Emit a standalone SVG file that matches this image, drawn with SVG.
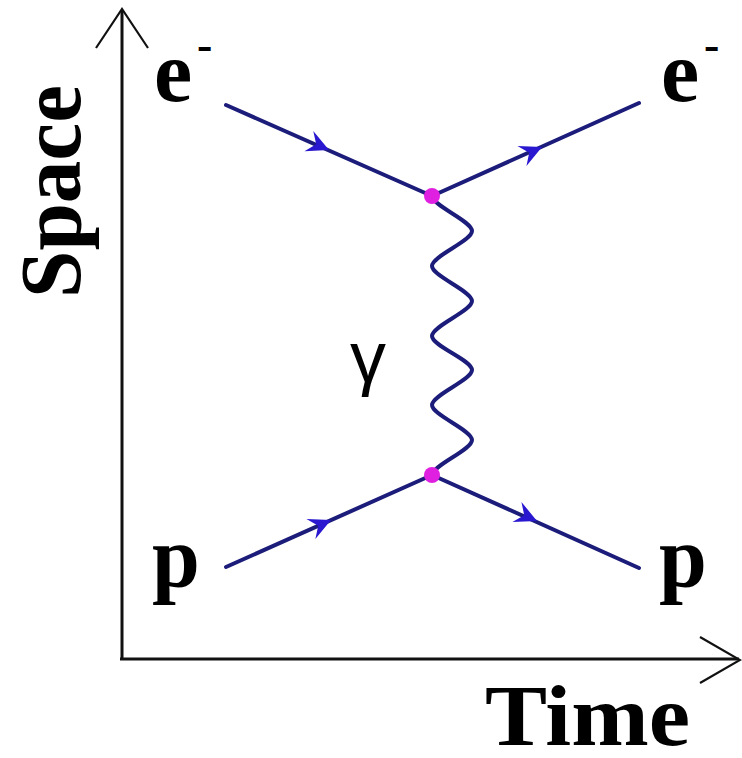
<svg xmlns="http://www.w3.org/2000/svg" width="742" height="758" viewBox="0 0 742 758">
<style>
.axis{stroke:#111;stroke-width:3;fill:none}
.axhead{stroke:#111;stroke-width:2.2;fill:none}
.line{stroke:#1c1c7a;stroke-width:4;fill:none;stroke-linecap:round}
.head{fill:#2a18d0}
.lbl{font-family:"Liberation Serif","Times New Roman",serif;font-weight:bold;font-size:86px;fill:#000}
.sup{font-family:"Liberation Serif","Times New Roman",serif;font-weight:bold;font-size:46px;fill:#000}
.gam{font-family:"Liberation Sans",Arial,sans-serif;font-size:72px;fill:#000}
.vtx{fill:#e020e0}
</style>
<defs>
<path id="ah" d="M0,0 L-22,-11 L-14,0 L-22,11 Z"/>
</defs>
<rect width="742" height="758" fill="#fff"/>
<g id="axes">
<line class="axis" x1="122" y1="10" x2="122" y2="660"/>
<line class="axis" x1="120" y1="659" x2="739" y2="659"/>
<polyline class="axhead" points="96,48 122,9 148,48"/>
<polyline class="axhead" points="700,637 740,660 700,683"/>
</g>
<g id="connectors">
<line class="line" x1="226" y1="105" x2="432" y2="196"/>
<line class="line" x1="432" y1="196" x2="639" y2="103"/>
<line class="line" x1="226" y1="567" x2="432" y2="475"/>
<line class="line" x1="432" y1="475" x2="639" y2="568"/>
<path class="line" d="M432,196 C433,206 472,221 472,231 C472,241 432,256 432,266 C432,276 472,291 472,301 C472,311 432,326 432,336 C432,346 472,360 472,370 C472,380 432,395 432,405 C432,415 472,430 472,440 C472,450 433,465 432,475"/>
<use href="#ah" class="head" transform="translate(329,150) rotate(23.7)"/>
<use href="#ah" class="head" transform="translate(542,147) rotate(-24.2)"/>
<use href="#ah" class="head" transform="translate(331,520) rotate(-24)"/>
<use href="#ah" class="head" transform="translate(537,521) rotate(24.2)"/>
</g>
<g id="vertex-top"><circle class="vtx" cx="432" cy="196" r="8"/></g>
<g id="vertex-bottom"><circle class="vtx" cx="432" cy="475" r="8"/></g>
<g id="e-in"><text class="lbl" x="154" y="101">e</text><text class="sup" x="197" y="60">-</text></g>
<g id="e-out"><text class="lbl" x="661" y="101">e</text><text class="sup" x="704" y="60">-</text></g>
<g id="p-in"><text class="lbl" x="152" y="586">p</text></g>
<g id="p-out"><text class="lbl" x="659" y="586">p</text></g>
<g id="gamma"><text class="gam" x="350" y="382">γ</text></g>
<g id="time-label"><text class="lbl" x="485" y="745" textLength="205" lengthAdjust="spacingAndGlyphs">Time</text></g>
<g id="space-label"><text class="lbl" transform="translate(80,298) rotate(-90)" x="0" y="0" textLength="213" lengthAdjust="spacingAndGlyphs">Space</text></g>
</svg>
